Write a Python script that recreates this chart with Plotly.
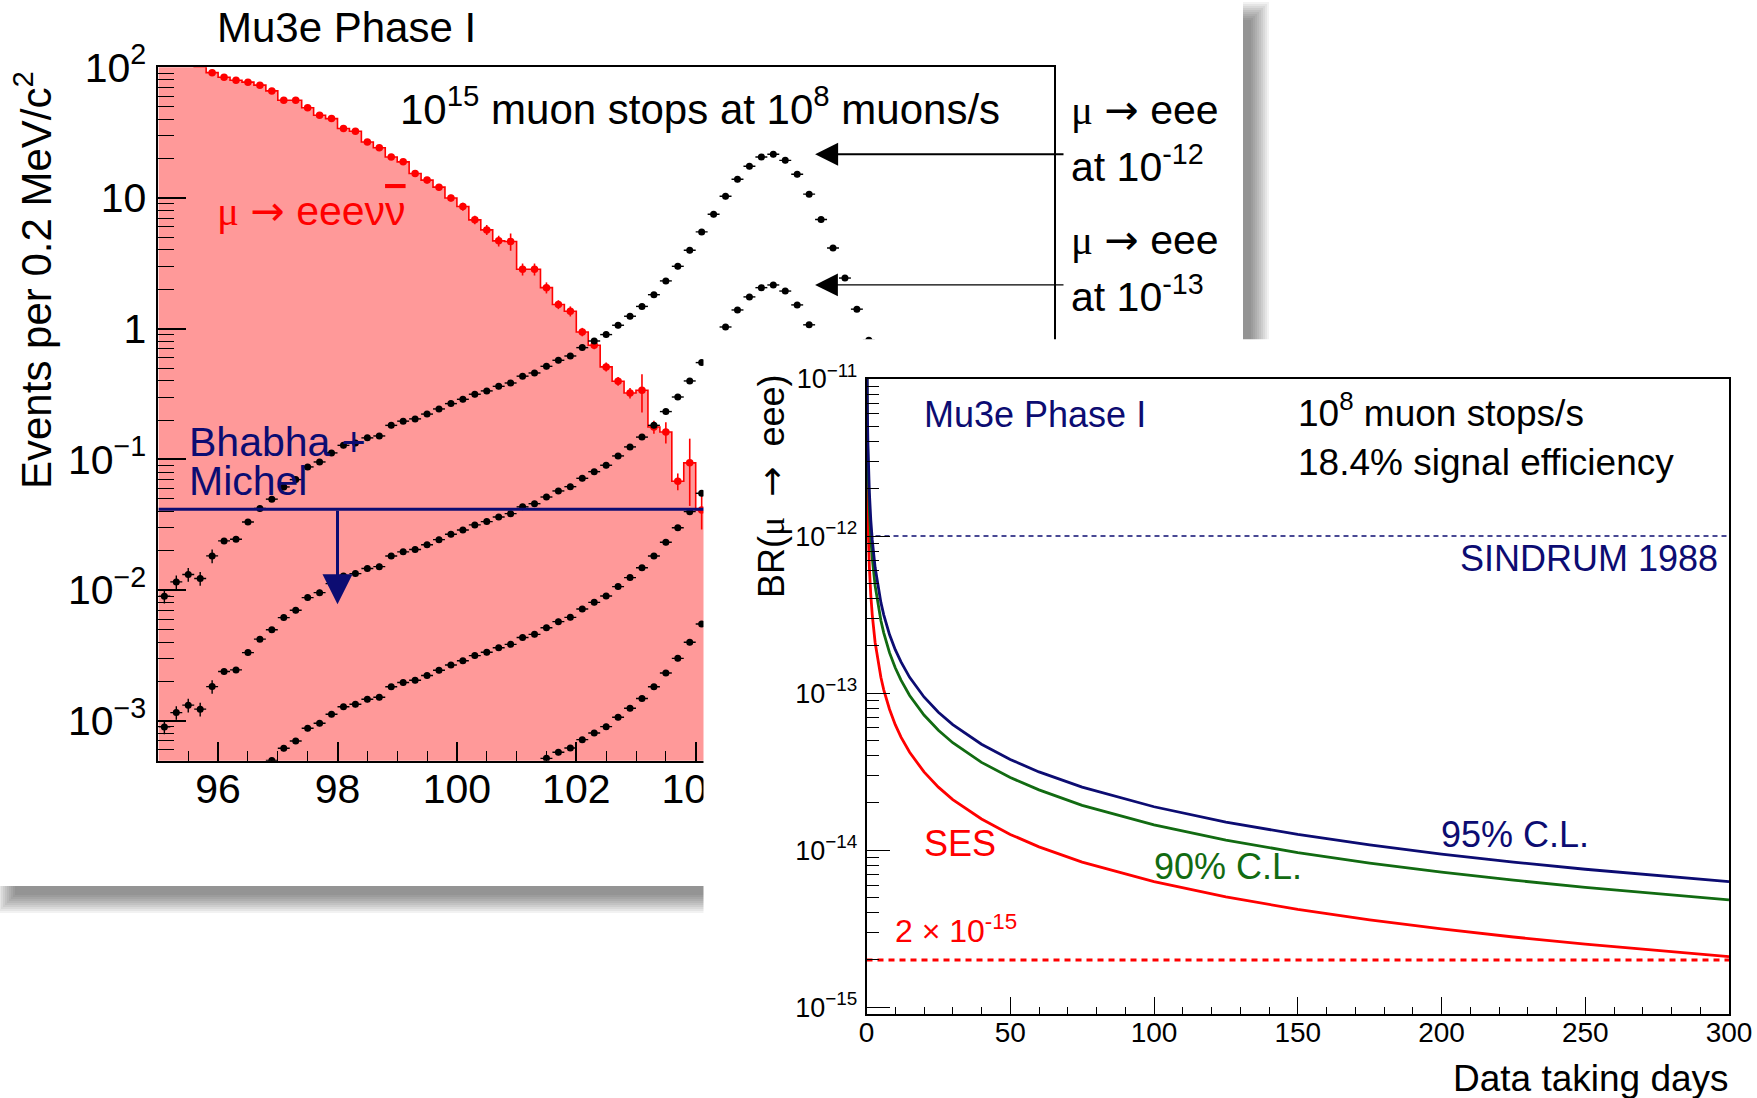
import math
import plotly.graph_objects as go

W, H = 1757, 1098
FONT = "Liberation Sans, Arial, Helvetica, sans-serif"

NAVY = "#0c0c72"
GREEN = "#126b12"
RED = "#ff0000"
IC_FILL = "#ff9999"

# ------------------------------------------------------------------
# Left panel: reconstructed e+e-e+ mass, events per 0.2 MeV/c^2 bin
# ------------------------------------------------------------------
BIN_WIDTH = 0.2


def bin_centers(first, count):
    return [round(first + BIN_WIDTH * i, 1) for i in range(count)]


# internal conversion background  mu -> eee nu nubar
IC_CENTERS = bin_centers(95.1, 46)
IC_EVENTS = [150, 120, 106, 101, 91, 84, 79.5, 77, 73, 66, 56, 56, 49, 43, 40.5,
             34, 32.4, 26.8, 24.2, 20.6, 18.9, 15.4, 13.7, 12.1, 10.0, 8.6, 6.8,
             5.7, 4.7, 4.65, 2.85, 2.85, 2.06, 1.53, 1.36, 0.944, 0.746, 0.51,
             0.396, 0.322, 0.338, 0.177, 0.162, 0.068, 0.094, 0.041]
IC_ERRORS = [3.0, 3.0, 2.6, 2.5, 2.5, 2.4, 2.3, 2.2, 2.1, 2.0, 1.8, 1.8, 1.6, 1.4,
             1.4, 1.2, 1.2, 1.0, 1.0, 0.9, 0.9, 0.8, 0.8, 0.7, 0.6, 0.6, 0.5, 0.5,
             0.45, 0.7, 0.3, 0.3, 0.2, 0.12, 0.12, 0.07, 0.05, 0.04, 0.03, 0.03,
             0.11, 0.02, 0.03, 0.01, 0.05, 0.012]

# signal mu -> eee at four branching ratios
SIG_1E12_CENTERS = bin_centers(95.1, 60)
SIG_1E12_EVENTS = [0.00897, 0.01154, 0.01315, 0.01226, 0.01824, 0.02377, 0.02449,
                   0.0332, 0.0421, 0.0496, 0.0615, 0.0700, 0.0875, 0.0955, 0.112,
                   0.128, 0.1336, 0.146, 0.151, 0.182, 0.196, 0.204, 0.222, 0.243,
                   0.267, 0.288, 0.315, 0.334, 0.362, 0.384, 0.433, 0.458, 0.515,
                   0.573, 0.618, 0.716, 0.805, 0.901, 1.062, 1.245, 1.48, 1.82,
                   2.32, 3.0, 3.98, 5.5, 7.5, 10.3, 13.9, 17.5, 20.6, 21.6, 19.4,
                   15.2, 10.7, 6.84, 4.14, 2.44, 1.41, 0.815]
SIG_1E13_CENTERS = bin_centers(95.1, 56)
SIG_1E13_EVENTS = [0.000897, 0.001154, 0.001315, 0.001226, 0.001824, 0.002377,
                   0.002449, 0.00332, 0.00421, 0.00496, 0.00615, 0.0070, 0.00875,
                   0.00955, 0.0112, 0.0128, 0.01336, 0.0146, 0.0151, 0.0182,
                   0.0196, 0.0204, 0.0222, 0.0243, 0.0267, 0.0288, 0.0315, 0.0334,
                   0.0362, 0.0384, 0.0433, 0.0458, 0.0515, 0.0573, 0.0618, 0.0716,
                   0.0805, 0.0901, 0.1062, 0.1245, 0.148, 0.182, 0.232, 0.300,
                   0.398, 0.55, 0.75, 1.03, 1.39, 1.75, 2.06, 2.16, 1.94, 1.52,
                   1.07, 0.684]
SIG_1E14_CENTERS = bin_centers(96.9, 37)
SIG_1E14_EVENTS = [0.000496, 0.000615, 0.00070, 0.000875, 0.000955, 0.00112,
                   0.00128, 0.001336, 0.00146, 0.00151, 0.00182, 0.00196, 0.00204,
                   0.00222, 0.00243, 0.00267, 0.00288, 0.00315, 0.00334, 0.00362,
                   0.00384, 0.00433, 0.00458, 0.00515, 0.00573, 0.00618, 0.00716,
                   0.00805, 0.00901, 0.01062, 0.01245, 0.0148, 0.0182, 0.0232,
                   0.0300, 0.0398, 0.055]
SIG_1E15_CENTERS = bin_centers(101.5, 14)
SIG_1E15_EVENTS = [0.000515, 0.000573, 0.000618, 0.000716, 0.000805, 0.000901,
                   0.001062, 0.001245, 0.00148, 0.00182, 0.00232, 0.0030, 0.00398,
                   0.0055]
SIGNAL_SERIES = [
    (SIG_1E12_CENTERS, SIG_1E12_EVENTS),
    (SIG_1E13_CENTERS, SIG_1E13_EVENTS),
    (SIG_1E14_CENTERS, SIG_1E14_EVENTS),
    (SIG_1E15_CENTERS, SIG_1E15_EVENTS),
]

BHABHA_MICHEL_LIMIT = 0.0415     # upper limit on accidental background
LIMIT_ARROW_MEV = 98.0
SIGNAL_ARROW_MEV = 106.0

MASS_RANGE = [95, 110]
EVENTS_LOG_RANGE = [-3.306, 2.0]
MASS_TICKS = [96, 98, 100, 102, 104, 106, 108, 110]
EVENT_TICKS = [1e-3, 1e-2, 1e-1, 1, 10, 100]
EVENT_TICK_TEXT = ["10<sup>\u22123</sup>", "10<sup>\u22122</sup>", "10<sup>\u22121</sup>",
                   "1", "10", "10<sup>2</sup>"]

# ------------------------------------------------------------------
# Right panel: sensitivity versus running time
# ------------------------------------------------------------------
DAYS = [0.06, 0.1, 0.15, 0.2, 0.3, 0.5, 0.75, 1, 1.5, 2, 3, 4, 5, 6, 8, 10, 12,
        15, 20, 25, 30, 40, 50, 60, 75, 100, 125, 150, 175, 200, 225, 250, 275, 300]
SES = [1.05e-11, 6.3e-12, 4.2e-12, 3.15e-12, 2.1e-12, 1.26e-12, 8.4e-13, 6.3e-13,
       4.2e-13, 3.15e-13, 2.1e-13, 1.58e-13, 1.26e-13, 1.05e-13, 7.9e-14, 6.3e-14,
       5.25e-14, 4.2e-14, 3.15e-14, 2.52e-14, 2.1e-14, 1.58e-14, 1.26e-14,
       1.05e-14, 8.4e-15, 6.3e-15, 5.04e-15, 4.2e-15, 3.6e-15, 3.15e-15, 2.8e-15,
       2.52e-15, 2.29e-15, 2.1e-15]
CL90 = [2.42e-11, 1.45e-11, 9.66e-12, 7.25e-12, 4.83e-12, 2.9e-12, 1.93e-12,
        1.45e-12, 9.66e-13, 7.25e-13, 4.83e-13, 3.62e-13, 2.9e-13, 2.42e-13,
        1.81e-13, 1.45e-13, 1.21e-13, 9.66e-14, 7.25e-14, 5.8e-14, 4.83e-14,
        3.62e-14, 2.9e-14, 2.42e-14, 1.93e-14, 1.45e-14, 1.16e-14, 9.66e-15,
        8.28e-15, 7.25e-15, 6.44e-15, 5.8e-15, 5.27e-15, 4.83e-15]
CL95 = [3.15e-11, 1.89e-11, 1.26e-11, 9.45e-12, 6.3e-12, 3.78e-12, 2.52e-12,
        1.89e-12, 1.26e-12, 9.45e-13, 6.3e-13, 4.73e-13, 3.78e-13, 3.15e-13,
        2.36e-13, 1.89e-13, 1.58e-13, 1.26e-13, 9.45e-14, 7.56e-14, 6.3e-14,
        4.73e-14, 3.78e-14, 3.15e-14, 2.52e-14, 1.89e-14, 1.51e-14, 1.26e-14,
        1.08e-14, 9.45e-15, 8.4e-15, 7.56e-15, 6.87e-15, 6.3e-15]
SINDRUM_LIMIT = 1e-12
PHASE1_TARGET = 2e-15

DAY_RANGE = [0, 300]
BR_LOG_RANGE = [-15.045, -11.0]
DAY_TICKS = [0, 50, 100, 150, 200, 250, 300]
BR_TICKS = [1e-15, 1e-14, 1e-13, 1e-12, 1e-11]
BR_TICK_TEXT = ["10<sup>\u221215</sup>", "10<sup>\u221214</sup>", "10<sup>\u221213</sup>",
                "10<sup>\u221212</sup>", "10<sup>\u221211</sup>"]

# ------------------------------------------------------------------
# page geometry (pixels)
# ------------------------------------------------------------------
LEFT_BOX = (158.4, 67.3, 1053.9, 760.7)      # x0, y0(top), x1, y1(bottom)
RIGHT_BOX = (866.5, 379.0, 1729.0, 1014.3)
INSET_CORNER = (703.5, 339.3)                 # top-left corner of the inset page
PAGE_EDGE = (1243, 886)                       # right / bottom edge of the left page


def fx(x):
    return x / W


def fy(y):
    return 1 - y / H


def log_minor(lo_exp, hi_exp):
    vals = []
    for e in range(lo_exp, hi_exp + 1):
        for m in range(2, 10):
            vals.append(m * 10.0 ** e)
    return vals


fig = go.Figure()

# ---------------- left panel traces ----------------
ic_edges = [round(c - BIN_WIDTH / 2, 2) for c in IC_CENTERS] + [round(IC_CENTERS[-1] + BIN_WIDTH / 2, 2)]
fig.add_trace(go.Scatter(
    x=ic_edges, y=IC_EVENTS + [IC_EVENTS[-1]], mode="lines", line_shape="hv",
    line=dict(color=RED, width=1.6), fill="tozeroy", fillcolor=IC_FILL,
    hoverinfo="skip", xaxis="x", yaxis="y"))

ic_vis = [(c, v, e) for c, v, e in zip(IC_CENTERS, IC_EVENTS, IC_ERRORS) if v < 100]
fig.add_trace(go.Scatter(
    x=[p[0] for p in ic_vis], y=[p[1] for p in ic_vis], mode="markers",
    marker=dict(color=RED, size=7.5),
    error_y=dict(type="data", array=[p[2] for p in ic_vis], color=RED, thickness=1.6, width=0),
    xaxis="x", yaxis="y"))

for centers, events in SIGNAL_SERIES:
    err = [v * (0.12 if c < 96.0 else 0.05) for c, v in zip(centers, events)]
    fig.add_trace(go.Scatter(
        x=centers, y=events, mode="markers",
        marker=dict(color="black", size=7),
        error_y=dict(type="data", array=err, color="black", thickness=1.4, width=0),
        error_x=dict(type="constant", value=BIN_WIDTH / 2, color="black", thickness=1.4, width=0),
        xaxis="x", yaxis="y"))

fig.add_trace(go.Scatter(
    x=MASS_RANGE, y=[BHABHA_MICHEL_LIMIT] * 2, mode="lines",
    line=dict(color=NAVY, width=3), xaxis="x", yaxis="y"))

# ---------------- white inset page (hides the lower right of the left page) ----------------
fig.add_trace(go.Scatter(
    x=[-1, 2, 2, -1, -1], y=[-1, -1, 2, 2, -1], mode="lines", fill="toself",
    fillcolor="white", line=dict(width=0, color="white"), hoverinfo="skip",
    xaxis="x2", yaxis="y2"))

# ---------------- right panel traces ----------------
fig.add_trace(go.Scatter(x=DAY_RANGE, y=[SINDRUM_LIMIT] * 2, mode="lines",
                         line=dict(color=NAVY, width=1.5, dash="5px,4px"),
                         xaxis="x3", yaxis="y3"))
fig.add_trace(go.Scatter(x=DAY_RANGE, y=[PHASE1_TARGET] * 2, mode="lines",
                         line=dict(color=RED, width=3, dash="6px,5px"),
                         xaxis="x3", yaxis="y3"))
for series, color in [(SES, RED), (CL90, GREEN), (CL95, NAVY)]:
    fig.add_trace(go.Scatter(x=DAYS, y=series, mode="lines",
                             line=dict(color=color, width=2.8),
                             xaxis="x3", yaxis="y3"))

# ---------------- axes ----------------
axis_common = dict(showline=True, linecolor="black", mirror=True, ticks="inside",
                   tickcolor="black", showgrid=False, zeroline=False, automargin=False,
                   tickfont=dict(family=FONT, color="black"))

lx0, ly0, lx1, ly1 = LEFT_BOX
rx0, ry0, rx1, ry1 = RIGHT_BOX

fig.update_layout(
    xaxis=dict(axis_common, domain=[fx(lx0), fx(lx1)], range=MASS_RANGE, anchor="y",
               linewidth=1.8, tickvals=MASS_TICKS, ticklen=19, tickwidth=1.5,
               tickfont_size=41, ticklabelstandoff=-9,
               minor=dict(dtick=0.5, tick0=95, ticklen=9.5, tickwidth=1.2,
                          ticks="inside", tickcolor="black", showgrid=False)),
    yaxis=dict(axis_common, domain=[fy(ly1), fy(ly0)], type="log", range=EVENTS_LOG_RANGE,
               anchor="x", linewidth=1.8, tickvals=EVENT_TICKS, ticktext=EVENT_TICK_TEXT,
               ticklen=28, tickwidth=1.5, tickfont_size=41, ticklabelstandoff=2,
               minor=dict(tickvals=log_minor(-4, 1), ticklen=16, tickwidth=1.2,
                          ticks="inside", tickcolor="black", showgrid=False)),
    xaxis2=dict(domain=[fx(INSET_CORNER[0]), 1.0], range=[0, 1], visible=False,
                anchor="y2", automargin=False),
    yaxis2=dict(domain=[0.0, fy(INSET_CORNER[1])], range=[0, 1], visible=False,
                anchor="x2", automargin=False),
    xaxis3=dict(axis_common, domain=[fx(rx0), fx(rx1)], range=DAY_RANGE, anchor="y3",
                linewidth=1.5, tickvals=DAY_TICKS, ticklen=18, tickwidth=1.3,
                tickfont_size=28, ticklabelstandoff=-8,
                minor=dict(dtick=10, tick0=0, ticklen=8, tickwidth=1.1,
                           ticks="inside", tickcolor="black", showgrid=False)),
    yaxis3=dict(axis_common, domain=[fy(ry1), fy(ry0)], type="log", range=BR_LOG_RANGE,
                anchor="x3", linewidth=1.5, tickvals=BR_TICKS, ticktext=BR_TICK_TEXT,
                ticklen=24, tickwidth=1.3, tickfont_size=27, ticklabelstandoff=2,
                minor=dict(tickvals=log_minor(-16, -12), ticklen=13, tickwidth=1.1,
                           ticks="inside", tickcolor="black", showgrid=False)),
)

# ---------------- drop shadow of the left page ----------------
shapes = []
core = (15, 20, PAGE_EDGE[0] + 8, PAGE_EDGE[1] + 9)
for k in range(10):
    e = 2 * k
    shapes.append(dict(type="rect", xref="paper", yref="paper", layer="below",
                       x0=fx(core[0] - e), x1=fx(core[2] + e),
                       y0=fy(core[3] + e), y1=fy(core[1] - e),
                       line=dict(width=0), fillcolor="rgba(0,0,0,0.05)"))
shapes.append(dict(type="rect", xref="paper", yref="paper", layer="below",
                   x0=0, x1=fx(PAGE_EDGE[0]), y0=fy(PAGE_EDGE[1]), y1=1,
                   line=dict(width=0), fillcolor="white"))


# ---------------- text ----------------
def label(text, x, y, size, color="black", xanchor="left", yanchor="middle", angle=0):
    return dict(text=text, x=fx(x), y=fy(y), xref="paper", yref="paper",
                xanchor=xanchor, yanchor=yanchor, showarrow=False, textangle=angle,
                font=dict(family=FONT, size=size, color=color))


def styled(s, css):
    return '<span style="' + css + '">' + s + '</span>'


MU = styled("\u03bc", "font-family:Liberation Serif, Times New Roman, serif")
ARROW = styled("\u2192", "font-family:DejaVu Sans")
NUBAR = styled("\u03bd", "text-decoration:overline")

annotations = [
    # left page
    label("Mu3e Phase I", 215, 28, 42),
    label("Events per 0.2 MeV/c<sup>2</sup>", 33, 280, 42, angle=-90, xanchor="center", yanchor="middle"),
    label("10<sup>15</sup> muon stops at 10<sup>8</sup> muons/s", 398, 106, 42),
    label(MU + " " + ARROW + " eee\u03bd" + NUBAR, 215, 211, 41, color=RED),
    label("Bhabha +", 187, 442, 41, color=NAVY),
    label("Michel", 187, 481, 41, color=NAVY),
    label(MU + " " + ARROW + " eee", 1069, 110, 41),
    label("at 10<sup>-12</sup>", 1069, 164, 41),
    label(MU + " " + ARROW + " eee", 1069, 240, 41),
    label("at 10<sup>-13</sup>", 1069, 294, 41),
    # inset page
    label("BR(" + MU + "  " + ARROW + "  eee)", 771, 486, 36, angle=-90, xanchor="center"),
    label("Mu3e Phase I", 922, 414, 36, color=NAVY),
    label("10<sup>8</sup> muon stops/s", 1296, 410, 37),
    label("18.4% signal efficiency", 1296, 462, 37),
    label("SINDRUM 1988", 1720, 558, 36, color=NAVY, xanchor="right"),
    label("95% C.L.", 1439, 834, 36, color=NAVY),
    label("90% C.L.", 1152, 866, 36, color=GREEN),
    label("SES", 922, 843, 36, color=RED),
    label("2 \u00d7 10<sup>-15</sup>", 893, 929, 32, color=RED),
    label("Data taking days", 1731, 1078, 37, xanchor="right"),
]

# arrows pointing at the signal peaks
for centers, events, width, size in [(SIG_1E12_CENTERS, SIG_1E12_EVENTS, 2, 2.3),
                                     (SIG_1E13_CENTERS, SIG_1E13_EVENTS, 1.2, 3.8)]:
    tip_px = lx0 + (SIGNAL_ARROW_MEV - MASS_RANGE[0]) * (lx1 - lx0) / (MASS_RANGE[1] - MASS_RANGE[0])
    annotations.append(dict(x=SIGNAL_ARROW_MEV, y=math.log10(max(events)), xref="x", yref="y",
                            text="", showarrow=True, ax=1065 - tip_px, ay=0,
                            arrowhead=2, arrowsize=size, arrowwidth=width, arrowcolor="black"))

# arrow below the Bhabha + Michel limit
decade_px = (ly1 - ly0) / (EVENTS_LOG_RANGE[1] - EVENTS_LOG_RANGE[0])
limit_arrow_px = 95
annotations.append(dict(x=LIMIT_ARROW_MEV,
                        y=math.log10(BHABHA_MICHEL_LIMIT) - limit_arrow_px / decade_px,
                        xref="x", yref="y", text="", showarrow=True, ax=0, ay=-limit_arrow_px,
                        arrowhead=2, arrowsize=2.0, arrowwidth=3, arrowcolor=NAVY))

fig.update_layout(
    width=W, height=H,
    margin=dict(l=0, r=0, t=0, b=0, pad=0, autoexpand=False),
    paper_bgcolor="white", plot_bgcolor="rgba(0,0,0,0)",
    showlegend=False, shapes=shapes, annotations=annotations,
    font=dict(family=FONT, color="black"),
)

fig.write_html("out.html")
